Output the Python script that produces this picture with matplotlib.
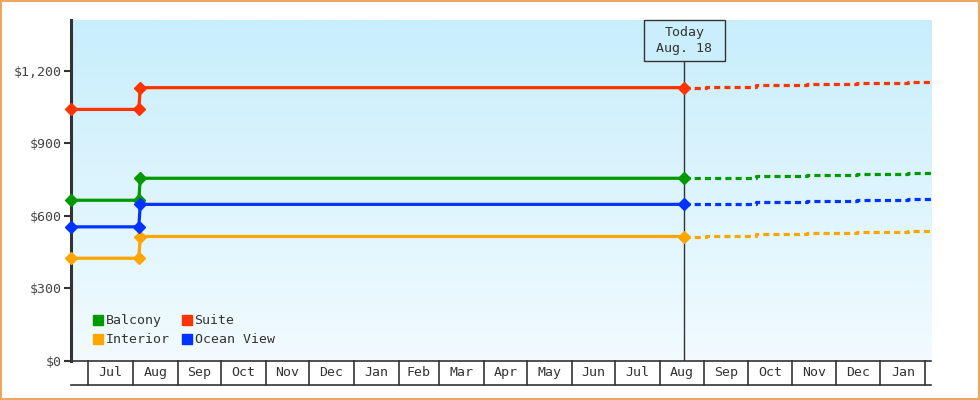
import matplotlib
matplotlib.use("Agg")
import matplotlib.pyplot as plt
import matplotlib.dates as mdates
import matplotlib.transforms as mtransforms
from matplotlib.lines import Line2D
from matplotlib.patches import Rectangle
import numpy as np
import pandas as pd

# ---------------- data ----------------
series_names = ["Balcony", "Interior", "Suite", "Ocean View"]
series_colors = ["#009900", "#ffa500", "#ff3300", "#0033ff"]

hist_dates = ["2022-06-19", "2022-08-05", "2022-08-06", "2023-08-18"]
hist_balcony = [664, 664, 755, 755]
hist_interior = [424, 424, 514, 514]
hist_suite = [1040, 1040, 1130, 1130]
hist_ocean = [554, 554, 647, 647]

fc_dates = ["2023-08-18", "2023-09-02", "2023-10-07", "2023-11-11",
            "2023-12-16", "2024-01-20", "2024-02-05"]
fc_balcony = [755, 758, 763, 767, 771, 775, 775]
fc_interior = [514, 517, 523, 527, 531, 535, 535]
fc_suite = [1130, 1133, 1139, 1144, 1148, 1152, 1152]
fc_ocean = [647, 650, 655, 660, 664, 668, 668]

today_date = "2023-08-18"
today_label = "Today\nAug. 18"
x_start, x_end = "2022-06-19", "2024-02-05"
y_ticks = [0, 300, 600, 900, 1200]
y_max = 1410

# ---------------- figure ----------------
FONT = "DejaVu Sans Mono"
TXT = "#333333"
fig = plt.figure(figsize=(9.8, 4.0), dpi=100)
fig.patch.set_facecolor("white")
fig.add_artist(Rectangle((0.001, 0.002), 0.998, 0.996, transform=fig.transFigure,
                         fill=False, edgecolor="#e8a862", linewidth=1.5))

AX_W, AX_H = 860, 340.7
ax = fig.add_axes([71/980, 39.3/400, AX_W/980, AX_H/400])
ax.set_facecolor("none")

# gradient background
grad = np.linspace(0, 1, 256).reshape(-1, 1)
top = np.array([200, 238, 252]) / 255
bot = np.array([242, 251, 255]) / 255
img = top[None, None, :] * (1 - grad[:, :, None]) + bot[None, None, :] * grad[:, :, None]
ax.imshow(img, extent=[0, 1, 0, 1], transform=ax.transAxes, aspect="auto", zorder=0)

hd = pd.to_datetime(hist_dates)
fd = pd.to_datetime(fc_dates)
hist_vals = [hist_balcony, hist_interior, hist_suite, hist_ocean]
fc_vals = [fc_balcony, fc_interior, fc_suite, fc_ocean]

ax.set_xlim(pd.to_datetime(x_start), pd.to_datetime(x_end))
ax.set_ylim(0, y_max)

# today line and label box
td = pd.to_datetime(today_date)
bt = mtransforms.blended_transform_factory(ax.transData, ax.transAxes)
box_h = 40.7 / AX_H
box_w = 81 / AX_W
box_bottom = 1 - box_h
x0n, x1n = mdates.date2num(pd.to_datetime(x_start)), mdates.date2num(pd.to_datetime(x_end))
td_frac = (mdates.date2num(td) - x0n) / (x1n - x0n)
ax.plot([td, td], [0, box_bottom], transform=bt, color="#333333", lw=1.0, zorder=2)
ax.add_patch(Rectangle((td_frac - box_w / 2, box_bottom), box_w, box_h, transform=ax.transAxes,
                       facecolor="#cbeefc", edgecolor="#333333", lw=1.0, zorder=5, clip_on=False))
ax.text(td, 1 - box_h / 2, today_label, transform=bt,
        ha="center", va="center", fontsize=9.5, family=FONT, color=TXT, linespacing=1.35, zorder=6)

for name, col, hv, fv in zip(series_names, series_colors, hist_vals, fc_vals):
    ax.plot(hd, hv, color=col, lw=2.3, marker="D", markersize=6.3, zorder=4, clip_on=False,
            solid_joinstyle="miter")
    ax.plot(fd, fv, color=col, lw=2.3, drawstyle="steps-post", linestyle=(0, (1.9, 1.3)), zorder=3)

# y axis
ax.set_yticks(y_ticks)
ax.set_yticklabels(["$" + format(v, ",") for v in y_ticks], family=FONT, fontsize=9.5, color="#444444")
ax.tick_params(axis="y", length=5, width=1.5, color="#333333", pad=2)
ax.set_xticks([])
for s in ["top", "right"]:
    ax.spines[s].set_visible(False)
ax.spines["left"].set_linewidth(2.2)
ax.spines["left"].set_color("#333333")
ax.spines["bottom"].set_linewidth(1.2)
ax.spines["bottom"].set_color("#333333")

# x axis strip with month cells
strip_y = -(385 - 360.7) / AX_H
ax.plot([0, 1], [strip_y, strip_y], transform=ax.transAxes, color="#333333", lw=1.2, clip_on=False)
months = pd.date_range("2022-07-01", "2024-02-01", freq="MS")
for i, m in enumerate(months):
    ax.plot([m, m], [0, strip_y], transform=bt, color="#333333", lw=1.2, clip_on=False)
    if i + 1 < len(months):
        mid = m + (months[i + 1] - m) / 2
        ax.text(mid, strip_y / 2, m.strftime("%b"), transform=bt, ha="center", va="center",
                fontsize=9.5, family=FONT, color=TXT)

# legend
handles = [Line2D([], [], marker="s", linestyle="none", markersize=7.5, color=c) for c in series_colors]
leg = ax.legend(handles, series_names, ncol=2, loc="lower left",
                bbox_to_anchor=((91 - 71) / AX_W, (360.7 - 349) / AX_H),
                frameon=False, handlelength=0.7, handletextpad=0.2, columnspacing=1.0,
                labelspacing=0.45, borderpad=0.2, borderaxespad=0,
                prop=dict(family=FONT, size=9.5))
for t in leg.get_texts():
    t.set_color(TXT)

fig.savefig("out.png", dpi=100)
